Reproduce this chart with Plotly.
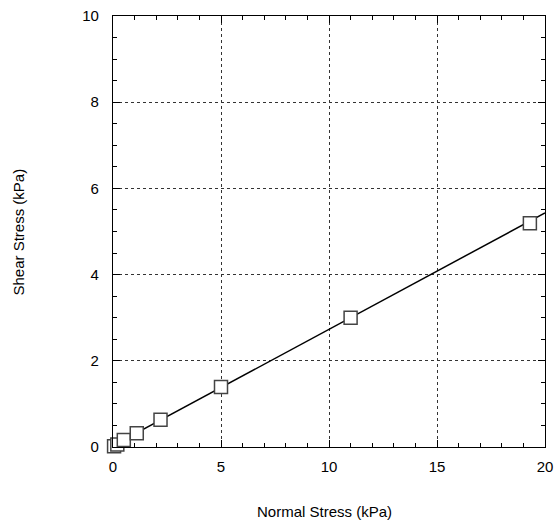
import plotly.graph_objects as go

normal_stress = [0.05, 0.2, 0.5, 1.1, 2.2, 5.0, 11.0, 19.3]
shear_stress = [0.02, 0.06, 0.16, 0.32, 0.63, 1.39, 3.0, 5.19]
fit_x = [0, 20]
fit_y = [0.03, 5.43]

fig = go.Figure()
fig.add_trace(go.Scatter(x=fit_x, y=fit_y, mode="lines",
                         line=dict(color="black", width=1.5), showlegend=False))
fig.add_trace(go.Scatter(x=normal_stress, y=shear_stress, mode="markers",
                         marker=dict(symbol="square", size=13, color="white",
                                     line=dict(color="#444", width=1.5)),
                         showlegend=False, cliponaxis=False))

font = dict(family="Liberation Sans, Arial, sans-serif", size=15, color="black")
axis_common = dict(showline=True, linecolor="black", linewidth=1.3, mirror="allticks",
                   ticks="inside", ticklen=7, tickwidth=1.2, tickcolor="black",
                   showgrid=True, gridcolor="#333", griddash="dot", gridwidth=1,
                   zeroline=False, tickfont=font, automargin=False)
fig.update_xaxes(range=[0, 20], tickvals=[0, 5, 10, 15, 20], ticklabelstandoff=6,
                 minor=dict(dtick=1, ticks="inside", ticklen=4, tickcolor="black", showgrid=False),
                 **axis_common)
fig.update_yaxes(range=[0, 10], tickvals=[0, 2, 4, 6, 8, 10], ticklabelstandoff=10,
                 minor=dict(dtick=0.5, ticks="inside", ticklen=4, tickcolor="black", showgrid=False),
                 **axis_common)
fig.add_annotation(text="Normal Stress (kPa)", xref="paper", yref="paper",
                   x=0.49, y=-0.1485, showarrow=False, font=font,
                   xanchor="center", yanchor="middle")
fig.add_annotation(text="Shear Stress (kPa)", xref="paper", yref="paper",
                   x=-0.2176, y=0.5, showarrow=False, font=font, textangle=-90,
                   xanchor="center", yanchor="middle")
fig.update_layout(width=556, height=529, margin=dict(l=113, r=11, t=16, b=82),
                  plot_bgcolor="white", paper_bgcolor="white", font=font,
                  hovermode=False)
fig.write_html("out.html", config={"displayModeBar": False},
               post_script="document.body.style.margin='0';document.body.style.overflow='hidden';")
